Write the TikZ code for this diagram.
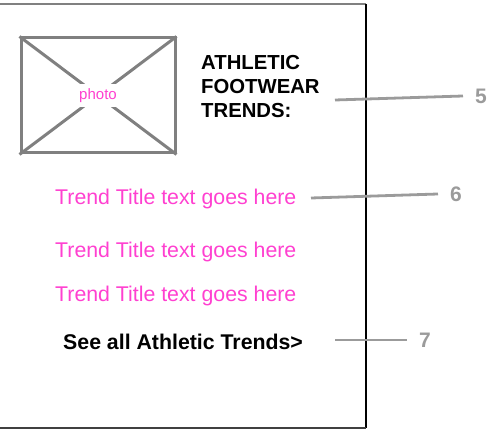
\documentclass[tikz,border=0pt]{standalone}
\usepackage{fontspec}
\setmainfont{Liberation Sans}
\usepackage{xcolor}
\usetikzlibrary{positioning, calc}

\definecolor{trendpink}{RGB}{255,64,208}
\definecolor{calloutgray}{RGB}{155,155,155}
\definecolor{boxgray}{RGB}{128,128,128}

\begin{document}
\begin{tikzpicture}[
    x=1pt, y=-1pt,
    photobox/.style={draw=boxgray, line width=3pt, rectangle, minimum width=154pt, minimum height=115pt, inner sep=0pt},
    photolbl/.style={fill=white, text=trendpink, font=\fontsize{15}{18}\selectfont, inner xsep=1pt, inner ysep=5pt},
    diag/.style={boxgray, line width=3pt},
    heading/.style={font=\fontsize{20.3}{24.3}\selectfont\bfseries, align=left, inner sep=0pt},
    trend/.style={text=trendpink, font=\fontsize{21.3}{25}\selectfont, inner sep=0pt},
    seeall/.style={font=\fontsize{21.3}{25}\selectfont\bfseries, inner sep=0pt},
    callout/.style={calloutgray, line width=2.8pt},
    num/.style={text=calloutgray, font=\fontsize{21}{25}\selectfont\bfseries, inner xsep=12pt, inner ysep=0pt}
]
\useasboundingbox (0,0) rectangle (491,430);

% page frame
\draw[gray, line width=1.5pt] (0,4) -- (366,4);
\draw[black, line width=1.2pt] (366,4) -- (366,428);
\draw[black!75, line width=1.5pt] (0,428) -- (366,428);

% photo placeholder
\node[photobox] (photo) at (98,95.5) {};
\draw[diag] (photo.north west) -- (photo.south east);
\draw[diag] (photo.north east) -- (photo.south west);
\node[photolbl] (plbl) at (photo.center) {photo};

\node[heading, anchor=north west] (title) at (201,54.8) {ATHLETIC\\FOOTWEAR\\TRENDS:};

\node[trend, anchor=base west] (t1) at (55,204.7) {Trend Title text goes here};
\node[trend, anchor=base west] (t2) at (55,258) {Trend Title text goes here};
\node[trend, anchor=base west] (t3) at (55,302) {Trend Title text goes here};
\node[seeall, anchor=base west] (all) at (63,350) {See all Athletic Trends>};

% callouts
\coordinate (c5) at (335,100);
\coordinate (c6) at (311,198);
\coordinate (c7) at (335,340);
\node[num, anchor=west] (n5) at (463,96) {5};
\node[num, anchor=west] (n6) at (438,194) {6};
\node[num, anchor=west] (n7) at (407,340) {7};
\draw[callout] (c5) -- (n5.west);
\draw[callout] (c6) -- (n6.west);
\draw[callout] (c7) -- (n7.west);

\end{tikzpicture}
\end{document}
